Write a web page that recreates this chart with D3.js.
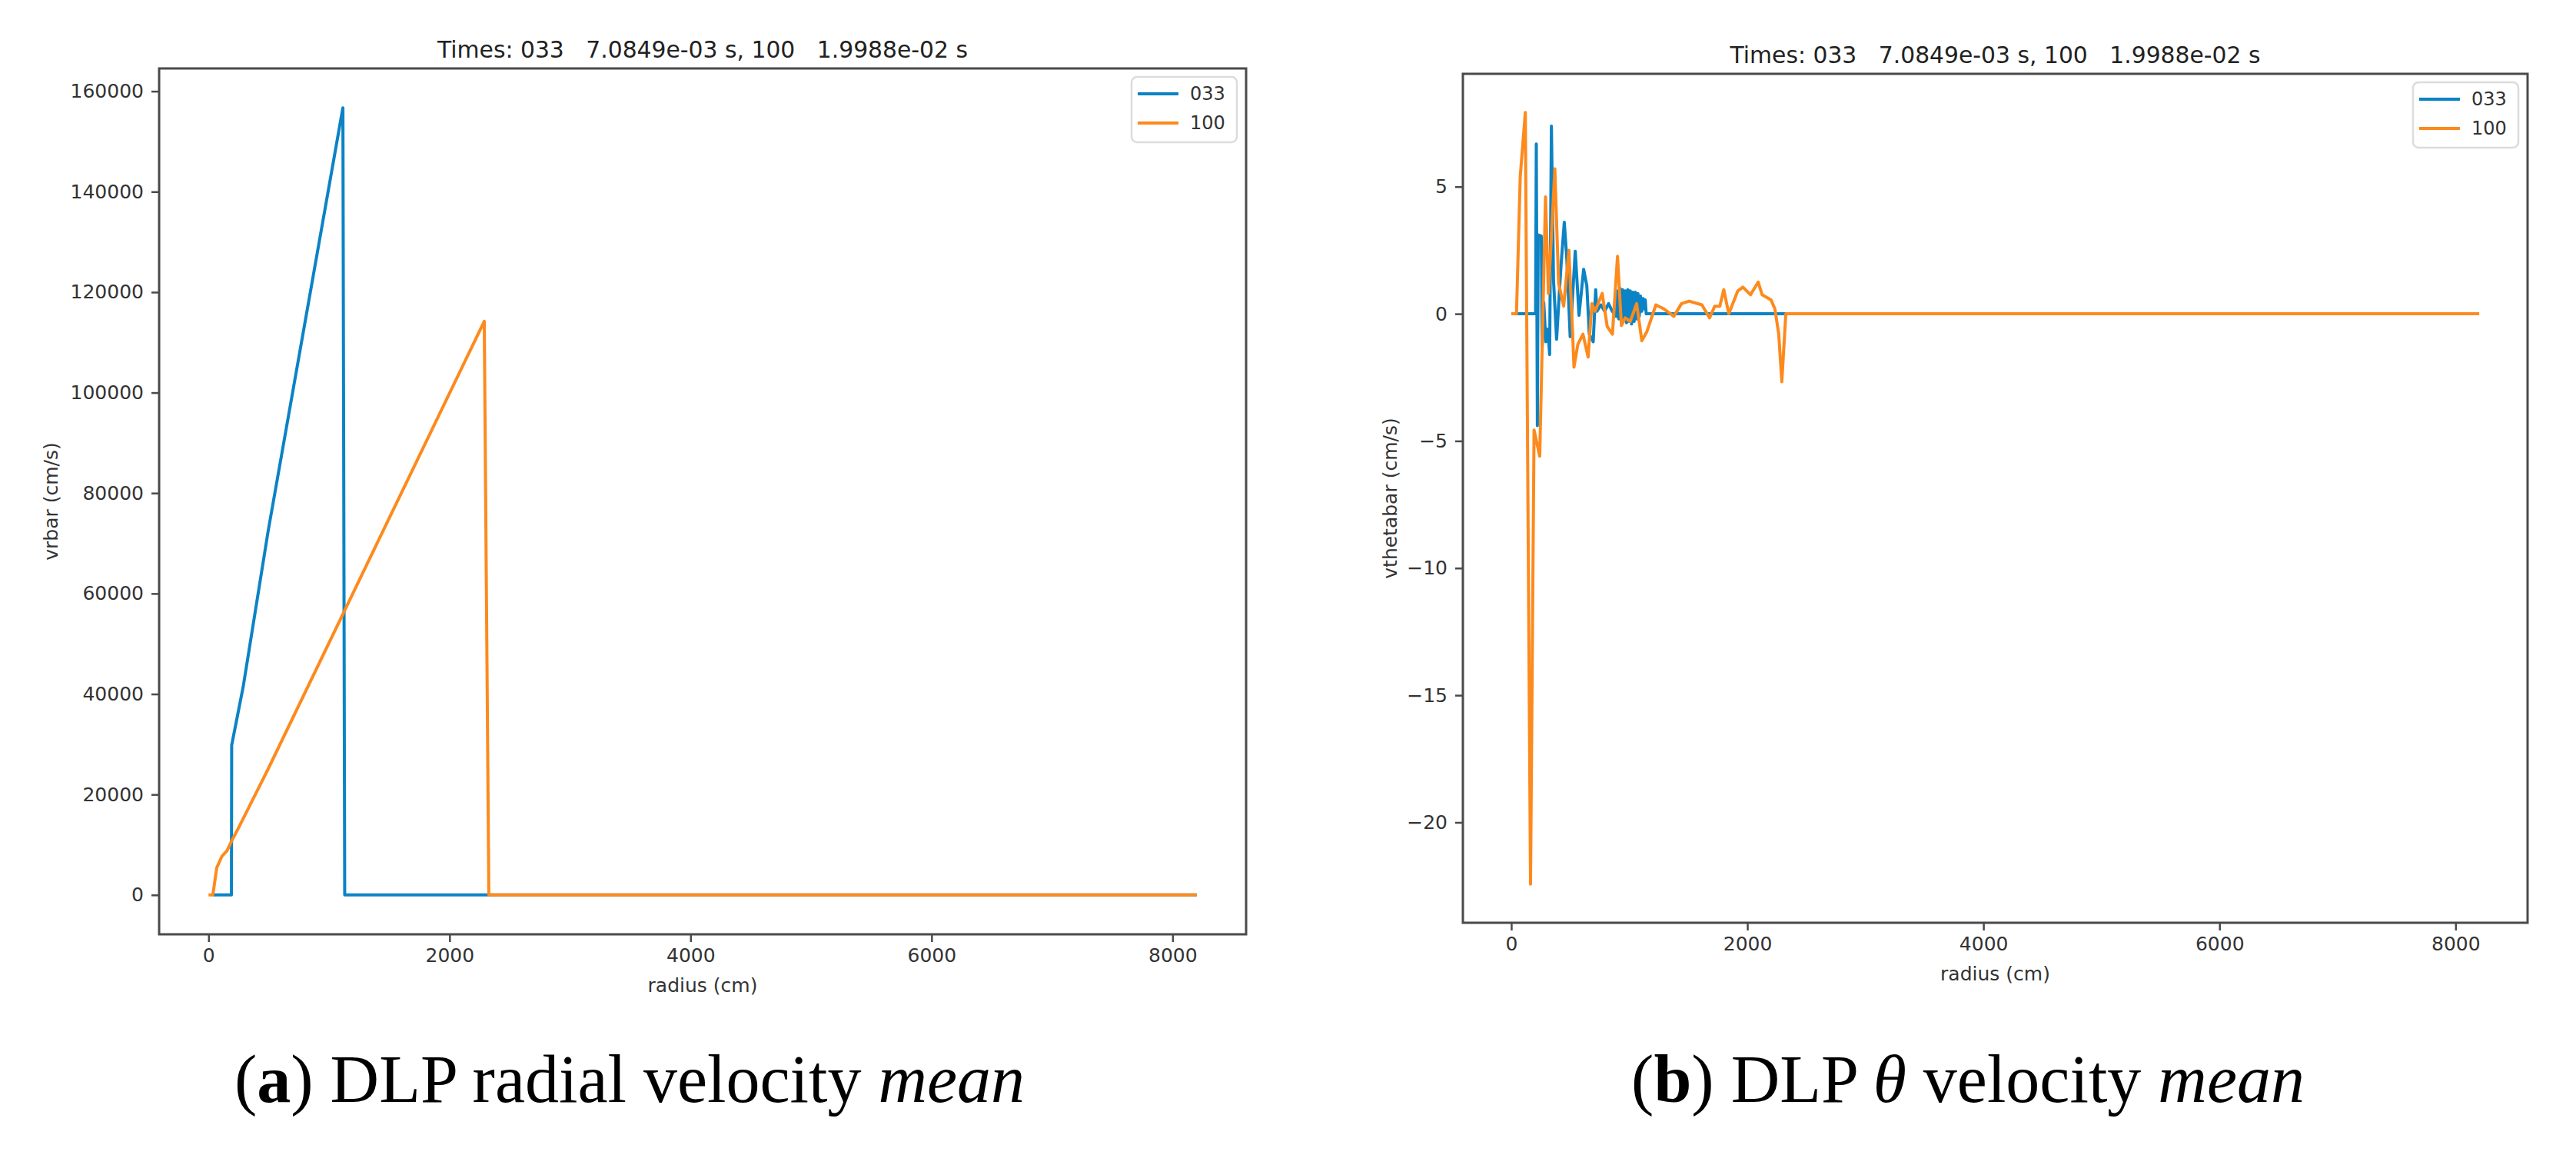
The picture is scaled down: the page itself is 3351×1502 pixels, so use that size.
<!DOCTYPE html>
<html>
<head>
<meta charset="utf-8">
<script src="https://cdn.jsdelivr.net/npm/d3@7"></script>
<style>
  html, body { margin: 0; padding: 0; background: #fff; }
  svg { display: block; }
</style>
</head>
<body>
<div id="chart"></div>
<script>
// --- data ---
const seriesNames = ["033", "100"]
const seriesColors = ["#0b83c5", "#fd8a1d"]
const titleText = "Times: 033   7.0849e-03 s, 100   1.9988e-02 s"

const xTicks = [0, 2000, 4000, 6000, 8000]
const vrTicks = [0, 20000, 40000, 60000, 80000, 100000, 120000, 140000, 160000]
const vthTicks = [-20, -15, -10, -5, 0, 5]

// (a) vrbar
const vrR033 = [40, 190, 192, 288, 495, 1115, 1130, 8200]
const vrV033 = [0, 0, 29800, 41500, 72500, 156700, 0, 0]
const vrR100 = [0, 36, 68, 111, 153, 191, 248, 493, 2288, 2326, 8200]
const vrV100 = [0, 0, 5400, 7700, 8800, 10700, 13300, 25000, 114200, 0, 0]

// (b) vthetabar
const vthR033 = [20, 206, 212, 221, 228, 254, 262, 275, 293, 310, 325, 340, 358, 384, 412, 423, 449, 470, 499,
  542, 574, 613, 640, 661, 694, 715, 726, 759, 791, 824, 856, 889, 900, 911, 922, 933, 943, 954, 965, 976,
  987, 998, 1008, 1019, 1030, 1041, 1051, 1062, 1073, 1084, 1095, 1106, 1117, 1127, 1135, 1143, 8200]
const vthV033 = [0, 0, 6.68, -4.4, 3.1, 3.06, -1.3, 0.45, -1.1, -0.6, -1.6, 7.38, 1.3, -1.0, 1.2, 2.0, 3.6, 2.2, -0.9,
  2.46, -0.06, 1.75, 1.1, -0.8, -1.1, 0.95, 0.1, 0.35, 0.1, 0.4, 0.1, -0.1, 0.9, -0.2, 1.0, -0.3, 0.95, -0.2, 0.9, -0.35,
  0.95, -0.3, 0.9, -0.4, 0.85, -0.3, 0.85, -0.2, 0.8, -0.1, 0.7, 0.1, 0.6, 0.2, 0.55, 0, 0]
const vthR100 = [0, 44, 76, 119, 163, 193, 241, 290, 315, 369, 401, 444, 488, 520, 531, 564, 607, 651, 683, 710,
  770, 813, 857, 900, 933, 965, 1008, 1062, 1106, 1149, 1225, 1290, 1377, 1442, 1507, 1615, 1680, 1724,
  1767, 1800, 1843, 1919, 1962, 2027, 2092, 2125, 2200, 2233, 2266, 2292, 2326, 8200]
const vthV100 = [0, 0, 5.4, 7.92, -22.43, -4.57, -5.6, 4.6, 0.8, 5.7, 1.2, 0.3, 2.5, -0.8, -2.1, -1.2, -0.8, -1.7, 0.4, 0.1,
  0.8, -0.5, -0.8, 2.26, -0.46, -0.16, -0.3, 0.4, -1.06, -0.7, 0.35, 0.2, -0.1, 0.4, 0.5, 0.35, -0.16, 0.3,
  0.3, 0.95, 0, 0.9, 1.05, 0.75, 1.25, 0.75, 0.55, 0.2, -0.8, -2.67, 0, 0]

const W = 3351, H = 1502
const sans = "'DejaVu Sans', sans-serif"
const serif = "'Liberation Serif', 'Times New Roman', serif"

const svg = d3.select("#chart").append("svg")
  .attr("width", W)
  .attr("height", H)

// matplotlib style 5% margins
function padded(ext) {
  const p = (ext[1] - ext[0]) * 0.05
  return [ext[0] - p, ext[1] + p]
}

function panel(o) {
  const series = o.rs.map((r, k) => r.map((d, i) => [d, o.vs[k][i]]))
  const allX = o.rs.flat(), allY = o.vs.flat()

  const x = d3.scaleLinear().domain(padded(d3.extent(allX))).range([o.left, o.right])
  const y = d3.scaleLinear().domain(padded(d3.extent(allY))).range([o.bottom, o.top])

  const g = svg.append("g")

  // lines
  const line = d3.line().x(d => x(d[0])).y(d => y(d[1]))
  g.selectAll("path.series")
    .data(series)
    .join("path")
    .attr("class", "series")
    .attr("d", line)
    .attr("fill", "none")
    .attr("stroke", (d, i) => seriesColors[i])
    .attr("stroke-width", 4)
    .attr("stroke-linejoin", "round")

  // axes
  const xAxis = g.append("g")
    .attr("transform", `translate(0,${o.bottom})`)
    .call(d3.axisBottom(x).tickValues(xTicks).tickFormat(d3.format("d")).tickSize(10).tickPadding(8))
  const yAxis = g.append("g")
    .attr("transform", `translate(${o.left},0)`)
    .call(d3.axisLeft(y).tickValues(o.yTicks).tickFormat(d3.format("d")).tickSize(10).tickPadding(10))

  for (const ax of [xAxis, yAxis]) {
    ax.select(".domain").remove()
    ax.selectAll(".tick line").attr("stroke", "#4a4a4a").attr("stroke-width", 2.5)
    ax.selectAll(".tick text")
      .attr("fill", "#333")
      .style("font-family", sans)
      .style("font-size", "25px")
  }

  // frame
  g.append("rect")
    .attr("x", o.left).attr("y", o.top)
    .attr("width", o.right - o.left).attr("height", o.bottom - o.top)
    .attr("fill", "none")
    .attr("stroke", "#4a4a4a")
    .attr("stroke-width", 3)

  // title
  g.append("text")
    .attr("x", (o.left + o.right) / 2)
    .attr("y", o.top - 14)
    .attr("text-anchor", "middle")
    .attr("fill", "#222")
    .style("font-family", sans)
    .style("font-size", "30px")
    .style("white-space", "pre")
    .attr("textLength", 690)
    .attr("lengthAdjust", "spacingAndGlyphs")
    .text(titleText)

  // axis labels
  g.append("text")
    .attr("x", (o.left + o.right) / 2)
    .attr("y", o.bottom + 75)
    .attr("text-anchor", "middle")
    .attr("fill", "#333")
    .style("font-family", sans)
    .style("font-size", "25px")
    .text("radius (cm)")

  g.append("text")
    .attr("transform", `translate(${o.ylabX},${(o.top + o.bottom) / 2}) rotate(-90)`)
    .attr("text-anchor", "middle")
    .attr("dy", "0.35em")
    .attr("fill", "#333")
    .style("font-family", sans)
    .style("font-size", "25px")
    .text(o.ylabel)

  // legend
  const lg = g.append("g").attr("transform", `translate(${o.right - 149},${o.top + 11})`)
  lg.append("rect")
    .attr("width", 137).attr("height", 85).attr("rx", 7)
    .attr("fill", "#fff")
    .attr("stroke", "#dcdcdc")
    .attr("stroke-width", 2.5)
  seriesNames.forEach((name, i) => {
    const ly = 22 + i * 38
    lg.append("line")
      .attr("x1", 8).attr("x2", 61).attr("y1", ly).attr("y2", ly)
      .attr("stroke", seriesColors[i]).attr("stroke-width", 4)
    lg.append("text")
      .attr("x", 76).attr("y", ly).attr("dy", "0.35em")
      .attr("fill", "#333")
      .style("font-family", sans)
      .style("font-size", "24px")
      .text(name)
  })
}

panel({
  left: 207, right: 1621, top: 89, bottom: 1215,
  rs: [vrR033, vrR100], vs: [vrV033, vrV100],
  yTicks: vrTicks, ylabel: "vrbar (cm/s)", ylabX: 66
})

panel({
  left: 1903, right: 3288, top: 96, bottom: 1200,
  rs: [vthR033, vthR100], vs: [vthV033, vthV100],
  yTicks: vthTicks, ylabel: "vthetabar (cm/s)", ylabX: 1808
})

// captions
function caption(cx, parts) {
  const t = svg.append("text")
    .attr("x", cx).attr("y", 1433)
    .attr("text-anchor", "middle")
    .attr("fill", "#000")
    .style("font-family", serif)
    .style("font-size", "88px")
    .style("white-space", "pre")
  parts.forEach(p => {
    t.append("tspan")
      .style("font-weight", p.b ? "bold" : "normal")
      .style("font-style", p.i ? "italic" : "normal")
      .text(p.s)
  })
}

caption(819, [{ s: "(" }, { s: "a", b: true }, { s: ") DLP radial velocity " }, { s: "mean", i: true }])
caption(2560, [{ s: "(" }, { s: "b", b: true }, { s: ") DLP " }, { s: "θ", i: true }, { s: " velocity " }, { s: "mean", i: true }])
</script>
</body>
</html>
